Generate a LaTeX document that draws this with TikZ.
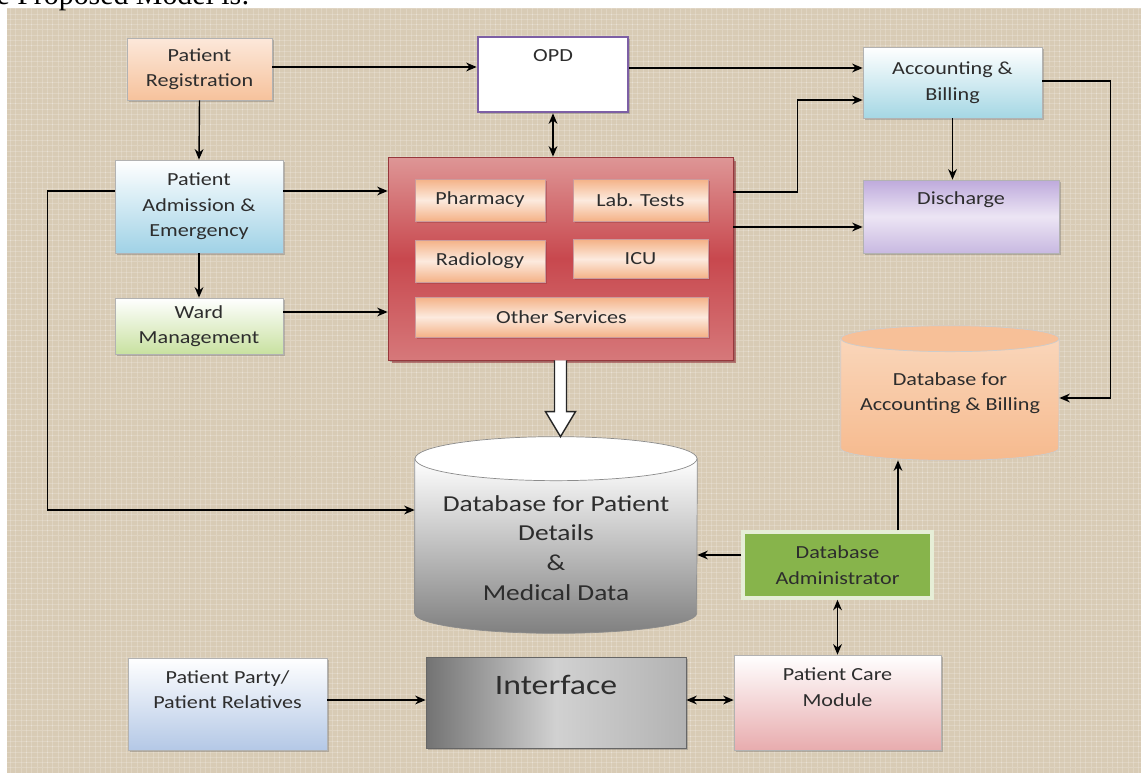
\documentclass[tikz,border=0pt]{standalone}
\usepackage{fontspec}
\setmainfont{Carlito}[FakeStretch=1.2]
\newfontfamily\capfont{Liberation Serif}
\usepackage{tikz}
\usetikzlibrary{positioning,calc,shadows,backgrounds,patterns}
\usetikzlibrary{shapes.geometric, arrows.meta}
\definecolor{paper}{RGB}{216,203,181}
\definecolor{ink}{RGB}{45,45,45}
\definecolor{regtop}{RGB}{252,232,218}
\definecolor{regbot}{RGB}{246,194,156}
\definecolor{admbot}{RGB}{160,210,230}
\definecolor{wardbot}{RGB}{200,225,160}
\definecolor{opdline}{RGB}{125,95,165}
\definecolor{srvtop}{RGB}{222,150,150}
\definecolor{srvmid}{RGB}{200,72,78}
\definecolor{srvbot}{RGB}{214,120,122}
\definecolor{srvline}{RGB}{150,55,60}
\definecolor{peach}{RGB}{244,178,135}
\definecolor{peachlight}{RGB}{252,234,222}
\definecolor{accbot}{RGB}{165,215,228}
\definecolor{distop}{RGB}{190,170,220}
\definecolor{dismid}{RGB}{236,229,244}
\definecolor{disbot}{RGB}{200,185,225}
\definecolor{dbaccend}{RGB}{247,192,152}
\definecolor{dbacctop}{RGB}{250,214,186}
\definecolor{dbaccbot}{RGB}{246,186,142}
\definecolor{dbgray}{RGB}{128,128,128}
\definecolor{adminfill}{RGB}{135,180,75}
\definecolor{adminline}{RGB}{230,238,215}
\definecolor{carebot}{RGB}{232,172,174}
\definecolor{partybot}{RGB}{180,200,230}
\tikzstyle{box} = [rectangle, draw=black!30, inner sep=0pt, align=center, text=ink, font=\fontsize{10.5}{14.5}\selectfont, drop shadow={shadow xshift=1pt, shadow yshift=-1pt, opacity=0.35, fill=black!60}]
\tikzstyle{lbl} = [inner sep=0pt, align=center, text=ink, font=\fontsize{10.5}{14.5}\selectfont]
\tikzstyle{inbox} = [rectangle, draw=srvline!50, inner sep=0pt, text=ink, font=\fontsize{10.5}{14.5}\selectfont, top color=peach, bottom color=peach, middle color=peachlight, drop shadow={shadow xshift=1pt, shadow yshift=-1pt, opacity=0.4, fill=srvline}]
\tikzstyle{dbtext} = [inner sep=0pt, align=center, text=ink, font=\fontsize{13}{17}\selectfont]
\tikzstyle{arrow} = [thick,->,>={Stealth[length=6pt,width=5pt]}]
\tikzstyle{twoway} = [thick,<->,>={Stealth[length=6pt,width=5pt]}]
\tikzstyle{hollow} = [draw=black!85, fill=white, line width=0.8pt]

\begin{document}
\begin{tikzpicture}[x=0.02cm, y=-0.02cm]
    \useasboundingbox (0,0) rectangle (1141,773);
    \begin{scope}[on background layer]
        \fill[white] (0,0) rectangle (1141,773);
        \fill[paper] (7,8) rectangle (1141,773);
        \fill[pattern=grid, pattern color=white, opacity=0.18] (7,8) rectangle (1141,773);
    \end{scope}
    \node[anchor=base east, inner sep=0pt, font=\capfont\fontsize{17}{19}\selectfont] (cap) at (250,5) {The Proposed Model is:};

    % left column
    \node[box, top color=regtop, bottom color=regbot, minimum width=2.9cm, minimum height=1.24cm] (reg) at (199.5,69) {Patient\\Registration};
    \node[box, top color=white, bottom color=admbot, minimum width=3.36cm, minimum height=1.86cm] (adm) at (199,206.5) {Patient\\Admission \&\\Emergency};
    \node[box, top color=white, bottom color=wardbot, minimum width=3.36cm, minimum height=1.12cm] (ward) at (199,326) {Ward\\Management};

    % OPD and services
    \node[box, fill=white, draw=opdline, line width=1.5pt, minimum width=3cm, minimum height=1.5cm] (opd) at (553,74.5) {};
    \node[lbl] (opdlbl) at ([yshift=0.37cm]opd.center) {OPD};
    \node[box, draw=srvline, top color=srvtop, bottom color=srvbot, middle color=srvmid, minimum width=6.9cm, minimum height=4.06cm, drop shadow={shadow xshift=2pt, shadow yshift=-2pt, opacity=0.6, fill=srvline}] (srv) at (560.5,258.5) {};
    \node[inbox, minimum width=2.6cm, minimum height=0.84cm] (phar) at (480,200) {Pharmacy};
    \node[inbox, minimum width=2.7cm, minimum height=0.84cm] (lab) at (640.5,200) {Lab. Tests};
    \node[inbox, minimum width=2.6cm, minimum height=0.84cm] (rad) at (480,261) {Radiology};
    \node[inbox, minimum width=2.7cm, minimum height=0.78cm] (icu) at (640.5,259) {ICU};
    \node[inbox, minimum width=5.86cm, minimum height=0.8cm] (oth) at (561.5,317) {Other Services};

    % right column
    \node[box, top color=white, bottom color=accbot, minimum width=3.58cm, minimum height=1.42cm] (acc) at (952.5,82.5) {Accounting \&\\Billing};
    \node[box, top color=distop, bottom color=disbot, middle color=dismid, minimum width=3.92cm, minimum height=1.46cm] (dis) at (961,216.5) {};
    \node[lbl] (dislbl) at ([yshift=0.33cm]dis.center) {Discharge};
    \node[dbtext, font=\fontsize{10.5}{14.5}\selectfont, minimum width=4.36cm, minimum height=2.68cm] (dbacc) at (950,393) {Database for\\Accounting \& Billing};

    % databases
    \node[minimum width=5.64cm, minimum height=3.92cm] (dbp) at (556,535) {};
    \node[dbtext] (dbplbl) at ([yshift=-0.26cm]dbp.center) {Database for Patient\\Details\\\&\\Medical Data};
    \begin{scope}[on background layer]
        \path[draw=black!45, top color=white, bottom color=dbgray] ($(dbp.north west)+(0,22)$) -- ($(dbp.south west)+(0,-20)$) arc[start angle=180, end angle=0, x radius=141, y radius=20] -- ($(dbp.north east)+(0,22)$) -- cycle;
        \path[draw=black!45, fill=white] ($(dbp.north)+(0,22)$) ellipse[x radius=141, y radius=22];
        \path[draw=black!20, top color=dbacctop, bottom color=dbaccbot] ($(dbacc.north west)+(0,13)$) -- ($(dbacc.south west)+(0,-12)$) arc[start angle=180, end angle=0, x radius=109, y radius=12] -- ($(dbacc.north east)+(0,13)$) -- cycle;
        \path[draw=black!20, fill=dbaccend] ($(dbacc.north)+(0,13)$) ellipse[x radius=109, y radius=13];
    \end{scope}

    % bottom row
    \node[box, fill=adminfill, draw=adminline, line width=2pt, minimum width=3.78cm, minimum height=1.32cm] (dba) at (837.5,565) {Database\\Administrator};
    \node[box, top color=white, bottom color=carebot, minimum width=4.14cm, minimum height=1.9cm] (care) at (837.5,702.5) {};
    \node[lbl] (carelbl) at ([yshift=0.31cm]care.center) {Patient Care\\Module};
    \node[box, draw=black!60, left color=black!55, right color=black!30, middle color=black!18, minimum width=5.2cm, minimum height=1.82cm] (intf) at (556,702.5) {};
    \node[lbl, font=\fontsize{16}{18}\selectfont] (intflbl) at ([yshift=0.35cm]intf.center) {Interface};
    \node[box, top color=white, bottom color=partybot, minimum width=3.98cm, minimum height=1.84cm] (party) at (227.5,704) {};
    \node[lbl] (partylbl) at ([yshift=0.29cm]party.center) {Patient Party/\\Patient Relatives};

    % connectors
    \draw[arrow] (reg.south) -- (adm.north);
    \draw[arrow] (adm.south) -- (ward.north);
    \draw[arrow] ([yshift=0.04cm]reg.east) -- ([yshift=0.04cm]reg.east -| opd.west);
    \draw[arrow] ([yshift=0.13cm]opd.east) -- ([yshift=0.13cm]opd.east -| acc.west);
    \draw[twoway] (opd.south) -- (opd.south |- srv.north);
    \draw[arrow] ([yshift=0.31cm]adm.east) -- ([yshift=0.31cm]adm.east -| srv.west);
    \draw[arrow] ([yshift=0.28cm]ward.east) -- ([yshift=0.28cm]ward.east -| srv.west);
    \draw[arrow] ([yshift=1.33cm]srv.east) -- ++(64,0) |- ([yshift=-0.35cm]acc.west);
    \draw[arrow] ([yshift=0.63cm]srv.east) -- ([yshift=0.63cm]srv.east -| dis.west);
    \draw[arrow] (acc.south) -- (acc.south |- dis.north);
    \draw[arrow] ([yshift=0.03cm]acc.east) -- ++(68,0) |- ([yshift=-0.1cm]dbacc.east);
    \draw[arrow] ([yshift=0.31cm]adm.west) -- ++(-67,0) |- ([yshift=0.5cm]dbp.west);
    \coordinate (tip) at (srv.south |- dbp.north);
    \draw[hollow] ($(srv.south)+(-6,0)$) -- ($(tip)+(-6,-25)$) -- ($(tip)+(-15,-25)$) -- (tip) -- ($(tip)+(15,-25)$) -- ($(tip)+(6,-25)$) -- ($(srv.south)+(6,0)$);
    \draw[arrow] ([yshift=0.2cm]dba.west) -- ([yshift=0.2cm]dba.west -| dbp.east);
    \draw[arrow] ([xshift=1.21cm]dba.north) -- ([xshift=1.21cm]dba.north |- dbacc.south);
    \draw[twoway] (dba.south) -- (care.north);
    \draw[arrow] ([yshift=0.08cm]party.east) -- ([yshift=0.08cm]party.east -| intf.west);
    \draw[twoway] ([yshift=0.05cm]intf.east) -- ([yshift=0.05cm]intf.east -| care.west);
\end{tikzpicture}
\end{document}
